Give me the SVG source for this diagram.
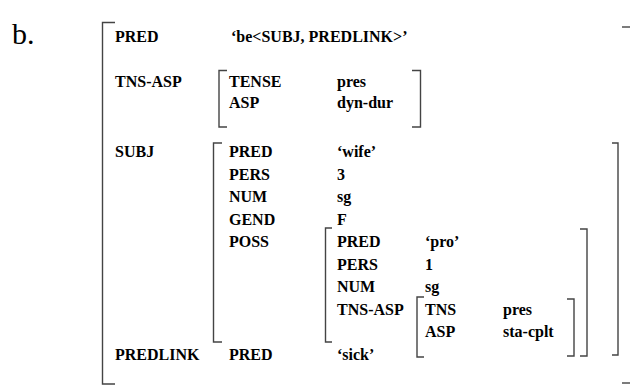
<svg xmlns="http://www.w3.org/2000/svg" width="630" height="386" viewBox="0 0 630 386">
<style>
  text { font-family: "Liberation Serif", "Times New Roman", serif; font-size: 16px; font-weight: bold; fill: #000; }
  .lbl { font-size: 30px; font-weight: normal; }
  .br { fill: none; stroke: #444; stroke-width: 1.4; }
</style>
<rect width="630" height="386" fill="#fff"/>
<text class="lbl" x="12" y="44">b.</text>

<g id="fs-main">
  <path class="br" d="M115,22.5 H102.5 V384 H115"/>
  <path class="br" d="M622,27 H630"/>
  <path class="br" d="M622,383 H630"/>
  <text x="115" y="42">PRED</text>
  <text x="231" y="42">‘be&lt;SUBJ, PREDLINK&gt;’</text>
  <text x="115" y="87">TNS-ASP</text>
  <text x="115" y="157">SUBJ</text>
  <text x="115" y="360">PREDLINK</text>
  <text x="229" y="360">PRED</text>
  <text x="337" y="360">‘sick’</text>
</g>

<g id="fs-tnsasp">
  <path class="br" d="M227,70.5 H219 V127 H227"/>
  <path class="br" d="M412,70.5 H420.5 V127 H412"/>
  <text x="229" y="87">TENSE</text>
  <text x="337" y="87">pres</text>
  <text x="229" y="108">ASP</text>
  <text x="337" y="108">dyn-dur</text>
</g>

<g id="fs-subj">
  <path class="br" d="M222,143 H213.5 V342 H222"/>
  <path class="br" d="M612,143 H618 V355 H612"/>
  <text x="229" y="157">PRED</text>
  <text x="337" y="157">‘wife’</text>
  <text x="229" y="179.5">PERS</text>
  <text x="337" y="179.5">3</text>
  <text x="229" y="202">NUM</text>
  <text x="337" y="202">sg</text>
  <text x="229" y="224.5">GEND</text>
  <text x="337" y="224.5">F</text>
  <text x="229" y="247">POSS</text>
</g>

<g id="fs-poss">
  <path class="br" d="M332,228 H325.5 V342 H332"/>
  <path class="br" d="M580,229 H587 V356 H580"/>
  <text x="337" y="247">PRED</text>
  <text x="425" y="247">‘pro’</text>
  <text x="337" y="269.5">PERS</text>
  <text x="425" y="269.5">1</text>
  <text x="337" y="292">NUM</text>
  <text x="425" y="292">sg</text>
  <text x="337" y="314.5">TNS-ASP</text>
</g>

<g id="fs-poss-tnsasp">
  <path class="br" d="M424,297 H417 V357 H424"/>
  <path class="br" d="M567,299 H574 V356 H567"/>
  <text x="425" y="314.5">TNS</text>
  <text x="503" y="314.5">pres</text>
  <text x="425" y="337">ASP</text>
  <text x="503" y="337">sta-cplt</text>
</g>

<g id="connectors"></g>
</svg>
